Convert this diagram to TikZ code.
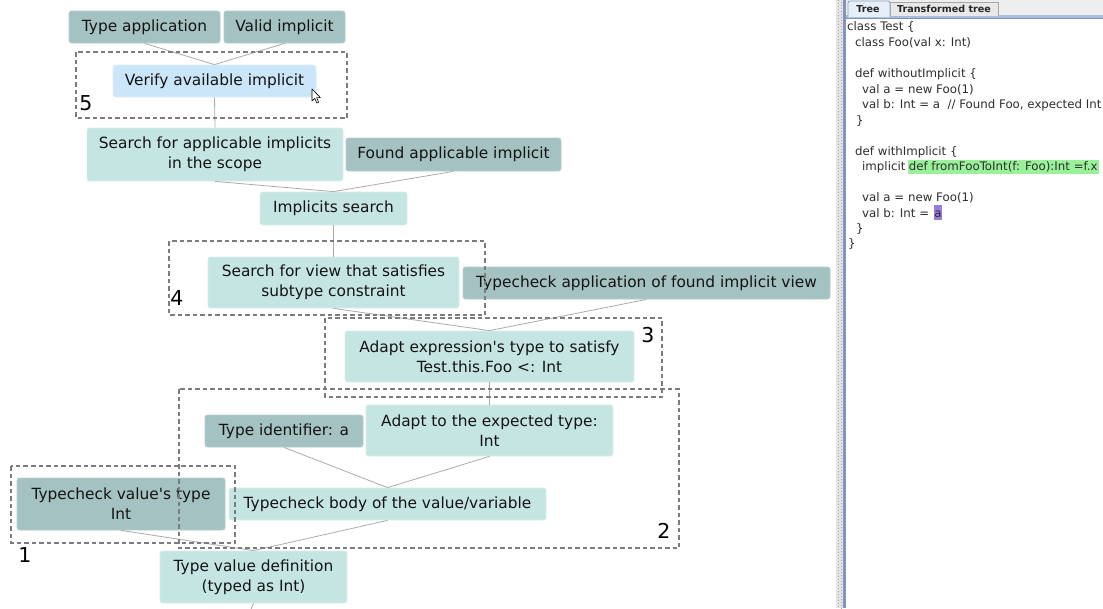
\documentclass[tikz,border=0pt]{standalone}
\usepackage{fontspec}
\newfontfamily\nf{DejaVu Sans}
\definecolor{ltc}{HTML}{C5E5E3}
\definecolor{ltb}{HTML}{D6EEEC}
\definecolor{dkc}{HTML}{A4C2C1}
\definecolor{dkb}{HTML}{B4CFCE}
\definecolor{blc}{HTML}{CCE6F9}
\definecolor{blb}{HTML}{DCEEFB}
\definecolor{linec}{HTML}{ABABAB}
\definecolor{grpc}{HTML}{7C7C7C}
\definecolor{txtc}{HTML}{141414}
\definecolor{codec}{HTML}{2E2E2E}
\definecolor{gripc}{HTML}{E4E4E4}
\definecolor{sepc}{HTML}{8095B8}
\definecolor{tabbg}{HTML}{EEEEEE}
\definecolor{tabline}{HTML}{A9BEDC}
\definecolor{tabborder}{HTML}{8EA3C2}
\definecolor{seltab}{HTML}{E6EEF8}
\definecolor{othtab}{HTML}{E8E8E8}
\definecolor{hlg}{HTML}{99F199}
\definecolor{hlp}{HTML}{9A7DDA}
\tikzset{
  box/.style={rounded corners=2.5pt, inner sep=0pt, align=center, text=txtc,
    line width=0.8pt, font=\nf\fontsize{15.4}{20}\selectfont},
  lt/.style={box, fill=ltc, draw=ltb},
  dk/.style={box, fill=dkc, draw=dkb},
  bl/.style={box, fill=blc, draw=blb},
  conn/.style={draw=linec, line width=0.8pt},
  grp/.style={draw=grpc, dash pattern=on 4.5pt off 3pt, line width=1.2pt},
  grplabel/.style={font=\nf\fontsize{20.5}{21}\selectfont, text=black, inner sep=0pt},
  code/.style={font=\nf\fontsize{11.8}{14}\selectfont, text=codec, anchor=base west, inner sep=0pt},
  tabtxt/.style={font=\nf\bfseries\fontsize{9.6}{11}\selectfont, text=black!85, inner sep=0pt}
}
\begin{document}
\begin{tikzpicture}[x=1pt,y=-1pt]
\clip (0,0) rectangle (1103,608);
\fill[white] (0,0) rectangle (1103,608);

% ---------- tree nodes ----------
\node[dk, minimum width=151pt, minimum height=32pt] (tapp) at (144.5,27) {Type application};
\node[dk, minimum width=121pt, minimum height=32pt] (valid) at (284.5,27) {Valid implicit};
\node[bl, minimum width=203pt, minimum height=32pt] (verify) at (214.5,81) {Verify available implicit};
\node[lt, minimum width=256pt, minimum height=53pt] (search) at (215,154.5) {Search for applicable implicits\\in the scope};
\node[dk, minimum width=215pt, minimum height=33pt] (found) at (453.5,154.5) {Found applicable implicit};
\node[lt, minimum width=147pt, minimum height=33pt] (impl) at (333.5,208.5) {Implicits search};
\node[lt, minimum width=251pt, minimum height=51pt] (view) at (333.5,282.5) {Search for view that satisfies\\subtype constraint};
\node[dk, minimum width=367pt, minimum height=32pt] (tcapp) at (646.5,283) {Typecheck application of found implicit view};
\node[lt, minimum width=289pt, minimum height=51pt] (adaptexpr) at (489.5,356.5) {Adapt expression's type to satisfy\\Test.this.Foo <: Int};
\node[dk, minimum width=158pt, minimum height=32pt] (typeid) at (284,431) {Type identifier: a};
\node[lt, minimum width=247pt, minimum height=51pt] (adaptexp) at (489.5,430.5) {Adapt to the expected type:\\Int};
\node[lt, minimum width=317pt, minimum height=32pt] (tcbody) at (387.5,504) {Typecheck body of the value/variable};
\node[dk, minimum width=208pt, minimum height=52pt] (tcval) at (121,504) {Typecheck value's type\\Int};
\node[lt, minimum width=187pt, minimum height=52pt] (tvdef) at (253.5,577) {Type value definition\\(typed as Int)};
\coordinate (below) at (249,614);

% ---------- connectors ----------
\draw[conn] (tapp.south) -- (verify.north);
\draw[conn] (valid.south) -- (verify.north);
\draw[conn] (verify.south) -- (search.north);
\draw[conn] (search.south) -- (impl.north);
\draw[conn] (found.south) -- (impl.north);
\draw[conn] (impl.south) -- (view.north);
\draw[conn] (view.south) -- (adaptexpr.north);
\draw[conn] (tcapp.south) -- (adaptexpr.north);
\draw[conn] (adaptexpr.south) -- (adaptexp.north);
\draw[conn] (typeid.south) -- (tcbody.north);
\draw[conn] (adaptexp.south) -- (tcbody.north);
\draw[conn] (tcval.south) -- (tvdef.north);
\draw[conn] (tcbody.south) -- (tvdef.north);
\draw[conn] (tvdef.south) -- (below);

% ---------- dashed groups ----------
\draw[grp] (76,52) rectangle (347,118);
\draw[grp] (169,241) rectangle (485,315);
\draw[grp] (325,318) rectangle (662,397);
\draw[grp] (179,389) rectangle (679,548);
\draw[grp] (11,466) rectangle (235,543);
\node[grplabel] (l5) at (86,103) {5};
\node[grplabel] (l4) at (177,298) {4};
\node[grplabel] (l3) at (648,335) {3};
\node[grplabel] (l2) at (664,531) {2};
\node[grplabel] (l1) at (25,555) {1};

% mouse cursor
\draw[fill=white, draw=black, line width=0.6pt, line join=round]
  (312,89) -- (312,101) -- (314.8,98.4) -- (316.8,103) -- (318.6,102.2) -- (316.6,97.6) -- (320.4,97.6) -- cycle;

% ---------- right panel ----------
\fill[gripc] (836,0) rectangle (843,608);
\draw[black!35, dash pattern=on 1pt off 2pt] (838.5,0) -- (838.5,608);
\draw[black!35, dash pattern=on 1pt off 2pt] (841,1.5) -- (841,608);
\fill[sepc] (843,0) rectangle (846,608);
\fill[tabbg] (846,0) rectangle (1103,16);
\fill[tabline] (846,15) rectangle (1103,18);
\draw[sepc, line width=0.8pt] (846,18) -- (1103,18);
\draw[fill=othtab, draw=black!35, line width=0.8pt] (890,16) -- (890,2) -- (998,2) -- (998,16);
\draw[fill=seltab, draw=tabborder, line width=0.8pt, rounded corners=2pt] (848,17) -- (848,1) -- (890,1) -- (890,17);
\node[tabtxt] (tab1) at (868,9) {Tree};
\node[tabtxt] (tab2) at (944,9) {Transformed tree};

\node[code] (c1) at (847,30.5) {class Test \{};
\node[code] (c2) at (855,46.5) {class Foo(val x: Int)};
\node[code] (c3) at (855,77.5) {def withoutImplicit \{};
\node[code] (c4) at (862,93.5) {val a = new Foo(1)};
\node[code] (c5) at (862,108.5) {val b: Int = a\ \ // Found Foo, expected Int};
\node[code] (c6) at (856,124.5) {\}};
\node[code] (c7) at (855,155.5) {def withImplicit \{};
\node[code] (c8) at (862,170.5) {implicit };
\node[code, fill=hlg, text height=11pt, text depth=3.5pt, inner xsep=1pt] (c8h) at ([xshift=2pt]c8.base east) {def fromFooToInt(f: Foo):Int =f.x};
\node[code] (c9) at (862,201.5) {val a = new Foo(1)};
\node[code] (c10) at (862,217) {val b: Int =};
\node[code, fill=hlp, text height=12pt, text depth=3pt, inner xsep=0.8pt] (c10h) at ([xshift=4pt]c10.base east) {a};
\node[code] (c11) at (856,232.5) {\}};
\node[code] (c12) at (848,247.5) {\}};
\end{tikzpicture}
\end{document}
